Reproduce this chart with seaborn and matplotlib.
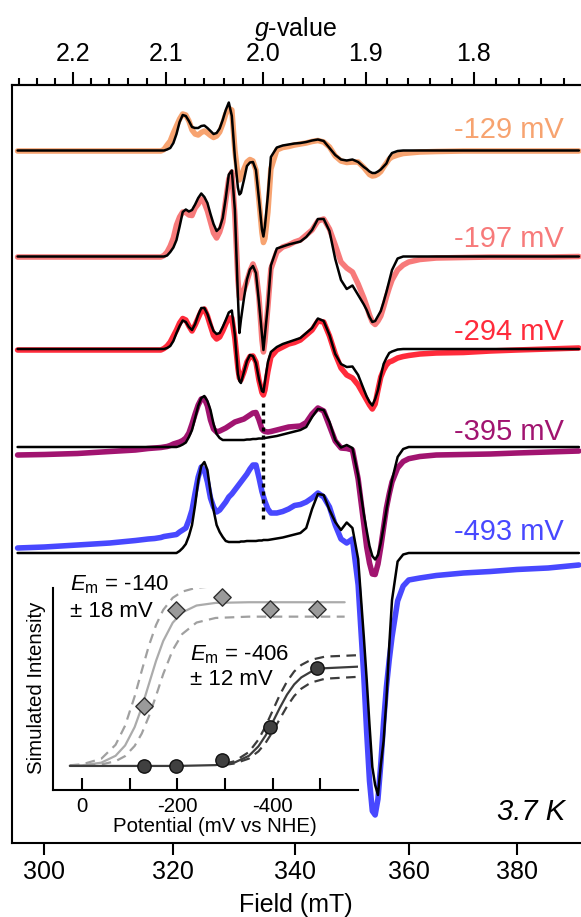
import numpy as np
import matplotlib
matplotlib.use("Agg")
import matplotlib.pyplot as plt
import seaborn as sns
from matplotlib.ticker import NullLocator, NullFormatter

sns.set_style("white")
plt.rcParams['font.family'] = ['Liberation Sans', 'DejaVu Sans']
plt.rcParams['mathtext.fontset'] = 'custom'
plt.rcParams['mathtext.rm'] = 'Liberation Sans'
plt.rcParams['mathtext.it'] = 'Liberation Sans:italic'
plt.rcParams['axes.unicode_minus'] = False
plt.rcParams['text.color'] = 'black'
plt.rcParams['axes.labelcolor'] = 'black'
plt.rcParams['xtick.color'] = 'black'
plt.rcParams['ytick.color'] = 'black'

#######################################################################
### data: EPR spectra (field in mT, signal in a.u. relative to baseline)
#######################################################################
FIELD = [296, 300, 305, 310, 314, 316, 317, 318,
         318.5, 319, 319.5, 320, 320.5, 321, 321.5, 322, 322.5, 323, 323.5, 324, 324.5, 325, 325.5, 326,
         326.5, 327, 327.5, 328, 328.5, 329, 329.5, 330, 330.5, 330.75, 331, 331.5, 332, 332.5, 333, 333.5,
         334, 334.5, 334.75, 335, 335.5, 336,
         337, 338, 339, 340, 341, 342, 343, 344, 345, 346, 347, 348, 349, 350, 351, 352,
         352.5, 353, 353.5, 354, 354.5, 355, 355.5, 356, 356.5, 357,
         358, 359, 360, 362, 365, 370, 375, 380, 386, 392]

EXP_129 = [-0.5, -0.5, -0.5, -0.5, -0.5, -0.5, -0.5, -0.5,
           1, 5.5, 9.5, 17.5, 24.5, 31.5, 36.5, 35.5, 29.5, 20.5, 16.5, 15.5, 18, 19.5, 17.5, 15,
           13, 14.5, 18.5, 26.5, 36.5, 42, 40.5, 0.5, -24.5, -29.5, -26.5, -18.5, -11.5, -9, -10.5, -19.5,
           -49.5, -82, -92, -88, -61.5, -18.5,
           0.5, 3, 4, 5.5, 6.5, 7.5, 9, 10, 8.5, 3.5, -5.5, -10.5, -12, -11.5, -11.5, -17,
           -20.5, -24, -25.5, -25, -23.5, -21, -16.5, -12.5, -8.5, -6.5,
           -4.5, -3, -2.5, -1.5, -1, -0.5, -0.5, -0.5, -0.5, -0.5]
SIM_129 = [0, 0, 0, 0, 0, 0, 0, 0,
           0, 1, 2.5, 7.5, 16.5, 28.5, 35.5, 34.5, 29.5, 23.5, 22.5, 22.5, 24.5, 25, 22.5, 19.5,
           16.5, 17.5, 22, 30.5, 40.5, 48, 34.5, -6.5, -37, -44, -42.5, -29.5, -15.5, -12, -11.5, -19.5,
           -48.5, -79, -86, -76, -44.5, -6.5,
           3, 5, 6, 7, 7.5, 8.5, 10, 11, 9.5, 2.5, -4.5, -9, -10, -9, -11.5, -16.5,
           -18.5, -21, -22.5, -22.5, -21, -19, -16, -13, -6.5, -2.5,
           -0.5, 0, 0, 0, 0, 0, 0, 0, 0, 0]

EXP_197 = [-0.5, -0.5, -0.5, -0.5, -0.5, -0.5, -0.5, -0.5,
           1, 4.5, 10.5, 18.5, 31.5, 39.5, 44.5, 44, 41.5, 41, 48.5, 52.5, 57.5, 53.5, 45.5, 34.5,
           23.5, 18.5, 24.5, 34.5, 56.5, 77.5, 84.5, 41.5, -23.5, -40.5, -41.5, -33.5, -24.5, -14.5, -7.5, -15.5,
           -40.5, -83.5, -95.5, -84.5, -50, -12.5,
           4.5, 9.5, 11.5, 14.5, 16.5, 21.5, 26.5, 35.5, 37.5, 27.5, 11.5, -5.5, -11.5, -15.5, -27.5, -41.5,
           -49.5, -58.5, -65.5, -68, -64.5, -59.5, -50.5, -40.5, -31.5, -23.5,
           -13.5, -8.5, -5.5, -3, -1.5, -1, -0.5, -0.5, -0.5, 0]
SIM_197 = [0, 0, 0, 0, 0, 0, 0, 0,
           0, 1, 4.5, 9, 16.5, 30, 44.5, 47, 45, 46.5, 52, 58.5, 63, 59.5, 53.5, 42.5,
           32.5, 25.5, 28.5, 38.5, 58.5, 82, 86, 46.5, -39.5, -76.5, -63.5, -42, -23, -13, -9.5, -16.5,
           -45.5, -77.5, -93.5, -78.5, -48.5, -9,
           8, 10, 12, 13.5, 15, 19.5, 26.5, 37.5, 37.5, 25.5, -2.5, -23.5, -32.5, -29, -38.5, -48,
           -53.5, -60.5, -65.5, -64.5, -59.5, -54.5, -45.5, -35.5, -24.5, -13.5,
           -2, 0, 0, 0, 0, 0, 0, 0, 0, 0]

EXP_294 = [-1, -1, -1, -1, -1, -1, -1, -1,
           0.5, 3, 7, 13, 19, 26, 30.5, 29, 23, 18, 24, 31, 38, 40, 33, 23,
           13.5, 10, 12, 18, 25, 31, 31, 11, -19, -29, -31, -23, -13, -7.5, -7, -13,
           -31, -43.5, -46, -41, -22.5, -8,
           -1, 2, 5, 6.5, 9, 14, 19, 28, 27, 13, -5, -19, -26, -29, -36, -46,
           -51, -56, -60, -55, -41, -28, -21, -16, -13, -12,
           -9, -7.5, -6.5, -5, -4, -3.5, -2, -1, 0, 1]
SIM_294 = [0, 0, 0, 0, 0, 0, 0, 0,
           0, 1, 3, 8, 16, 23, 28.5, 27, 22, 19, 25, 34, 41, 41, 35, 26,
           18, 15, 16, 22, 29, 36.5, 38.5, 14, -25, -32, -34, -23, -12, -6, -7, -14,
           -30, -42, -43, -33, -13, -3,
           2, 5, 7, 9, 11, 16, 21, 30.5, 28, 14, -5, -15, -18, -17.5, -26, -40.5,
           -47.5, -53, -56.5, -50, -41, -27, -15, -9, -4, -2.5,
           -0.5, 0, 0, 0, 0, 0, 0, 0, 0, 0]

EXP_395 = [-8, -7.5, -6.5, -4.5, -3, -1.5, -1, -0.5,
           0, 0.5, 1.5, 3, 4, 5, 6.5, 9, 14, 23, 33, 42, 48, 48.5, 41, 27,
           18, 15, 16, 17.5, 19, 21, 23, 25, 26, 26.5, 27, 28, 30, 32, 34, 34.5,
           27.3, 18, 16.3, 15.5, 15, 15.5,
           17, 18.5, 20, 20.5, 21, 24.5, 33, 39, 36, 21, 6, -1, -1.5, -3, -32, -77,
           -100, -116, -127, -127.5, -117, -100, -80.5, -61, -47, -35,
           -21, -14.5, -11.7, -9.5, -8, -7.5, -7, -6, -5, -4]
SIM_395 = [0, 0, 0, 0, 0, 0, 0, 0,
           0, 0, 0, 0, 0, 1, 2.5, 4.5, 10, 17, 29, 41, 49, 51, 46, 37,
           23, 13, 9, 7, 7, 7, 7, 7, 7, 7, 7, 7, 7.5, 7.5, 8, 8,
           8.5, 8.5, 9, 9, 9.5, 10,
           11, 12.5, 14, 15.5, 17, 20, 30, 38, 37, 25, 7, -0.5, 2, -1, -28.5, -67,
           -83.5, -99, -109, -112.5, -108, -96, -80, -63, -47, -33,
           -10, -2, 0, 0, 0, 0, 0, 0, 0, 0]

EXP_493 = [5, 6, 8, 10, 12.5, 14, 14.5, 15.5,
           16.5, 17, 17.5, 18, 18.5, 21, 23, 25, 33, 43, 60, 76, 86, 83, 71, 55,
           46, 41, 43, 47, 51, 56, 59, 63, 67, 69, 71, 75, 79, 84, 88, 88,
           75.4, 61.5, 56.5, 51.6, 44, 40,
           40, 41.5, 44, 47.5, 48.5, 51, 55, 60, 56, 46, 28, 14, 10, 14, -32, -124,
           -179, -228, -258, -262, -246, -211, -169, -134, -107, -84,
           -48, -33, -27, -25, -22.5, -20, -18.5, -16.5, -15, -12]
SIM_493 = [0, 0, 0, 0, 0, 0, 0, 0,
           0, 0, 0, 0, 0, 2, 5, 9, 17, 28, 48, 72, 87, 91, 83, 61,
           43, 28, 21, 16, 12, 11, 11, 11, 11, 11, 11.5, 11.5, 12, 12, 12, 12,
           12.5, 12.5, 13, 13, 13, 13.5,
           14.5, 15.5, 17, 18.5, 20, 25, 44, 59, 58, 43, 31, 23, 30.5, 25, -6, -84,
           -126, -172, -214, -232, -242, -212, -188, -147, -93, -47,
           -8.5, -1.5, 0, 0, 0, 0, 0, 0, 0, 0]

LABELS = ["-129 mV", "-197 mV", "-294 mV", "-395 mV", "-493 mV"]
BASELINES = [766.5, 660.5, 568, 470, 364]
COLORS = ["#F7A370", "#F77A7A", "#FF2B3B", "#A11470", "#4848FF"]
EXPS = [EXP_129, EXP_197, EXP_294, EXP_395, EXP_493]
SIMS = [SIM_129, SIM_197, SIM_294, SIM_395, SIM_493]

FIELD_TICKS = [300, 320, 340, 360, 380]
G_TICKS = [2.2, 2.1, 2.0, 1.9, 1.8]
G_MINOR = [round(2.26 - 0.02 * i, 2) for i in range(28)]
MW_FREQ = 9.369  # GHz
DOTTED_G = 2.0
DOTTED_SPAN = [514, 397]

#######################################################################
### data: redox titration inset
#######################################################################
POTENTIALS = [-129, -197, -294, -395, -493]
DIAMONDS = [0.368, 0.954, 1.035, 0.961, 0.961]
CIRCLES = [0.0, 0.0, 0.037, 0.24, 0.597]

LIGHT_E = [26, 0, -40, -70, -90, -110, -125, -140, -155, -170, -190, -210, -240, -280, -350, -551]
LIGHT_FIT = [0.002, 0.004, 0.02, 0.062, 0.125, 0.237, 0.358, 0.5, 0.642, 0.763, 0.875, 0.938, 0.98, 0.996, 1.0, 1.0]
LIGHT_HI = [0.004, 0.01, 0.044, 0.129, 0.246, 0.424, 0.582, 0.735, 0.861, 0.953, 1.027, 1.065, 1.089, 1.098, 1.1, 1.1]
LIGHT_LO = [0.001, 0.002, 0.009, 0.029, 0.06, 0.122, 0.198, 0.303, 0.429, 0.561, 0.708, 0.806, 0.876, 0.904, 0.912, 0.912]

DARK_E = [26, -100, -200, -280, -320, -350, -370, -385, -400, -415, -430, -445, -460, -480, -510, -583]
DARK_FIT = [0, 0, 0, 0.005, 0.021, 0.062, 0.12, 0.186, 0.268, 0.356, 0.436, 0.498, 0.541, 0.575, 0.597, 0.607]
DARK_BAND_E = [-300, -320, -350, -370, -385, -400, -415, -430, -445, -460, -480, -510, -583]
DARK_HI = [0.014, 0.029, 0.085, 0.161, 0.243, 0.339, 0.435, 0.516, 0.577, 0.617, 0.648, 0.668, 0.677]
DARK_LO = [0.007, 0.015, 0.045, 0.089, 0.141, 0.21, 0.288, 0.364, 0.427, 0.472, 0.509, 0.533, 0.545]


def g_to_field(g):
    return 71.4477 * MW_FREQ / g


#######################################################################
### main spectra
#######################################################################
fig = plt.figure(figsize=(5.81, 9.17), dpi=100)
ax = fig.add_axes([11.7 / 581, 74 / 917, 572.3 / 581, 758 / 917])

for exp, sim, base, col in zip(EXPS[::-1], SIMS[::-1], BASELINES[::-1], COLORS[::-1]):
    sns.lineplot(x=FIELD, y=base + np.array(exp), ax=ax, color=col, lw=4,
                 sort=False, estimator=None, zorder=2)
    sns.lineplot(x=FIELD, y=base + np.array(sim), ax=ax, color='black', lw=1.8,
                 sort=False, estimator=None, zorder=3)

gx = g_to_field(DOTTED_G)
ax.plot([gx, gx], DOTTED_SPAN, color='black', lw=2.4, ls=(0, (1.2, 1.2)), zorder=4)

ax.set_xscale('log')
ax.set_xlim(295.13, 393.0)
ax.set_ylim(74, 832)
ax.set_xticks(FIELD_TICKS)
ax.set_xticklabels([str(t) for t in FIELD_TICKS])
ax.xaxis.set_minor_locator(NullLocator())
ax.set_yticks([])
ax.tick_params(axis='x', which='major', direction='out', length=8.6, width=1.5,
               labelsize=18, pad=3.5, bottom=True, color='black', labelcolor='black')
for s in ['left', 'top', 'bottom']:
    ax.spines[s].set_linewidth(1.5)
    ax.spines[s].set_color('black')
ax.spines['right'].set_visible(False)
ax.set_xlabel("Field (mT)", fontsize=18)
ax.xaxis.set_label_coords(0.4968, -0.0818)
ax.xaxis.label.set_va('center')
ax.set_ylabel('')

label_y = [787, 678, 585, 485, 385]
for lab, y, col in zip(LABELS, label_y, COLORS):
    ax.text(389.1, y, lab, color=col, fontsize=21, ha='right', va='center')
ax.text(389.3, 105, "3.7 K", fontsize=21, style='italic', ha='right', va='center')

# g-value axis on top
ax_top = ax.twiny()
ax_top.set_xscale('log')
ax_top.set_xlim(ax.get_xlim())
ax_top.set_xticks([g_to_field(g) for g in G_TICKS])
ax_top.set_xticklabels([f"{g:.1f}" for g in G_TICKS])
ax_top.set_xticks([g_to_field(g) for g in G_MINOR if g not in G_TICKS], minor=True)
ax_top.xaxis.set_minor_formatter(NullFormatter())
ax_top.tick_params(axis='x', which='major', direction='out', length=9.4, width=1.5,
                   labelsize=18, pad=4, top=True, color='black', labelcolor='black')
ax_top.tick_params(axis='x', which='minor', direction='out', length=5, width=1.5,
                   top=True, color='black')
for s in ['left', 'bottom', 'right']:
    ax_top.spines[s].set_visible(False)
ax_top.spines['top'].set_linewidth(1.5)
ax_top.spines['top'].set_color('black')
ax_top.set_xlabel(r"$g$-value", fontsize=18)
ax_top.xaxis.set_label_coords(0.496, 1.0739)
ax_top.xaxis.label.set_va('center')

#######################################################################
### inset: redox titration
#######################################################################
axi = fig.add_axes([52.7 / 581, 127 / 917, 305.3 / 581, 202 / 917])
axi.patch.set_alpha(0)

dash = (0, (4.3, 2.9))
sns.lineplot(x=LIGHT_E, y=LIGHT_FIT, ax=axi, color='#ABABAB', lw=1.6, sort=False, estimator=None)
sns.lineplot(x=LIGHT_E, y=LIGHT_HI, ax=axi, color='#A0A0A0', lw=1.6, sort=False, estimator=None, linestyle=dash)
sns.lineplot(x=LIGHT_E, y=LIGHT_LO, ax=axi, color='#A0A0A0', lw=1.6, sort=False, estimator=None, linestyle=dash)
sns.lineplot(x=DARK_E, y=DARK_FIT, ax=axi, color='#3C3C3C', lw=1.6, sort=False, estimator=None)
sns.lineplot(x=DARK_BAND_E, y=DARK_HI, ax=axi, color='#3C3C3C', lw=1.6, sort=False, estimator=None, linestyle=dash)
sns.lineplot(x=DARK_BAND_E, y=DARK_LO, ax=axi, color='#3C3C3C', lw=1.6, sort=False, estimator=None, linestyle=dash)

sns.scatterplot(x=POTENTIALS, y=DIAMONDS, ax=axi, marker='D', s=78, color='#9A9A9A',
                edgecolor='#2F2F2F', linewidth=1, zorder=5)
sns.scatterplot(x=POTENTIALS, y=CIRCLES, ax=axi, marker='o', s=92, color='#404040',
                edgecolor='#111111', linewidth=1, zorder=5)

axi.set_xlim(62, -579)
axi.set_ylim(-0.147, 1.087)
axi.set_xticks([0, -200, -400])
axi.set_xticklabels(['0', '-200', '-400'])
axi.set_xticks([-100, -300, -500], minor=True)
axi.set_yticks([])
axi.tick_params(axis='x', which='both', direction='in', length=8.6, width=1.5,
                labelsize=14.7, pad=5, bottom=True, color='black', labelcolor='black')
for s in ['left', 'bottom']:
    axi.spines[s].set_linewidth(1.5)
    axi.spines[s].set_color('black')
for s in ['top', 'right']:
    axi.spines[s].set_visible(False)
axi.set_xlabel("Potential (mV vs NHE)", fontsize=14.7)
axi.xaxis.set_label_coords(0.532, -0.183)
axi.xaxis.label.set_va('center')
axi.set_ylabel("Simulated Intensity", fontsize=14.7)
axi.yaxis.set_label_coords(-0.0524, 0.506)
axi.yaxis.label.set_va('center')

axi.text(0.0567, 1.015, r"$E_{\mathrm{m}}$ = -140", transform=axi.transAxes, fontsize=16, va='center')
axi.text(0.0567, 0.883, "± 18 mV", transform=axi.transAxes, fontsize=16, va='center')
axi.text(0.4497, 0.668, r"$E_{\mathrm{m}}$ = -406", transform=axi.transAxes, fontsize=16, va='center')
axi.text(0.4497, 0.545, "± 12 mV", transform=axi.transAxes, fontsize=16, va='center')

fig.savefig("out.png", dpi=100)
